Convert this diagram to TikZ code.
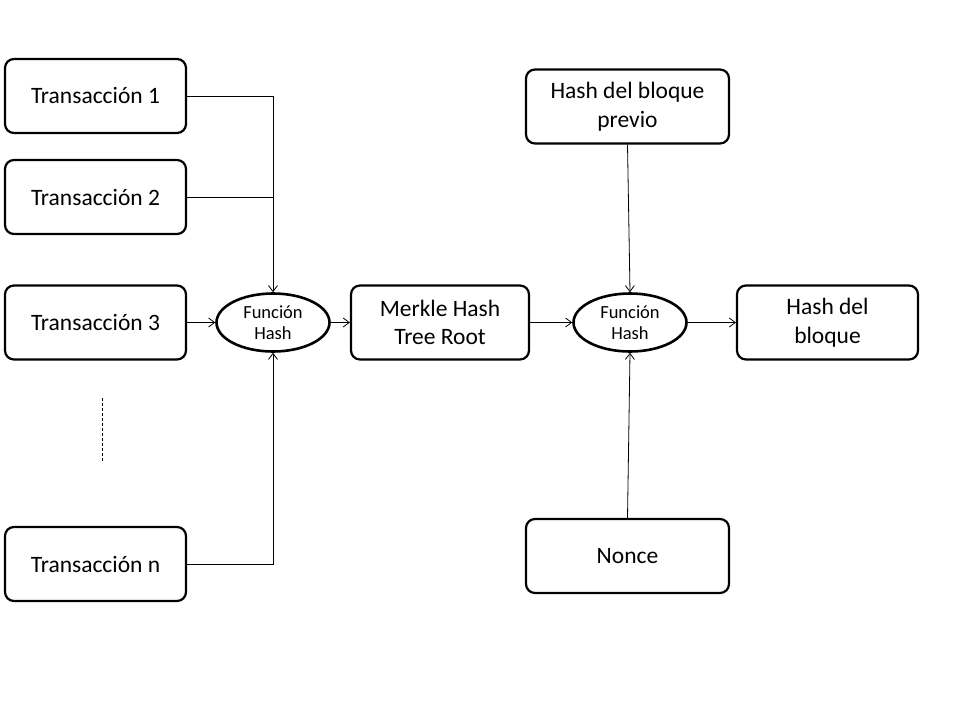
\documentclass[tikz,border=0pt]{standalone}
\usepackage{fontspec}
\setmainfont{Carlito}
\usetikzlibrary{shapes.geometric,arrows.meta}
\begin{document}
\begin{tikzpicture}[x=1pt,y=-1pt,
  box/.style={draw,line width=2.2pt,rounded corners=9pt,minimum width=181pt,minimum height=74pt,inner sep=0pt,font=\fontsize{23.5}{28.5}\selectfont,align=center},
  hashfn/.style={draw,ellipse,line width=2.6pt,minimum width=113pt,minimum height=58pt,inner sep=0pt,font=\fontsize{18.5}{21.5}\selectfont,align=center},
  conn/.style={line width=0.8pt,-{Straight Barb[length=6pt,width=9pt]}},
  plain/.style={line width=0.8pt}]
\useasboundingbox (0,0) rectangle (960,720);
\node[box] (t1) at (95.5,96) {Transacción 1};
\node[box] (t2) at (95.5,197) {Transacción 2};
\node[box] (t3) at (95.5,322.5) {Transacción 3};
\node[box] (tn) at (95.5,564) {Transacción n};
\node[hashfn] (h1) at (273,322.5) {Función\\Hash};
\node[box,minimum width=178pt] (mk) at (440,322.5) {Merkle Hash\\Tree Root};
\node[hashfn] (h2) at (630,322.5) {Función\\Hash};
\node[box] (hb) at (827.5,322.5) {Hash del\\bloque};
\node[box,minimum width=203pt] (hp) at (627.5,106.5) {Hash del bloque\\previo};
\node[box,minimum width=203pt] (nc) at (627.5,556) {Nonce};
\coordinate (d1) at (102,398);
\coordinate (d2) at (102,463);
\draw[line width=0.8pt,dash pattern=on 3pt off 2pt] (d1) -- (d2);
\draw[conn] (t1.east) -| (h1.north);
\draw[plain] (t2.east) -- (t2.east -| h1.north);
\draw[conn] (tn.east) -| (h1.south);
\draw[conn] (t3.east) -- (h1.west);
\draw[conn] (h1.east) -- (mk.west);
\draw[conn] (mk.east) -- (h2.west);
\draw[conn] (h2.east) -- (hb.west);
\draw[conn] (hp.south) -- (h2.north);
\draw[conn] (nc.north) -- (h2.south);
\end{tikzpicture}
\end{document}
